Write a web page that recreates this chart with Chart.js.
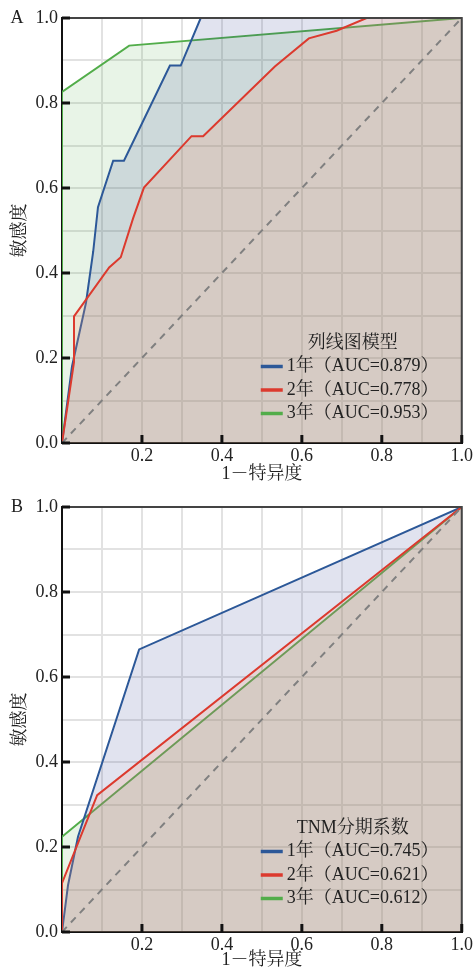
<!DOCTYPE html>
<html>
<head>
<meta charset="utf-8">
<script src="https://cdn.jsdelivr.net/npm/chart.js@4.4.1/dist/chart.umd.min.js"></script>
<style>
  body { margin: 0; background: #fff; }
  canvas { display: block; }
</style>
</head>
<body>
<canvas id="chartA" width="475" height="489"></canvas>
<canvas id="chartB" width="475" height="486"></canvas>
<script>
// A: 列线图模型
const a1x = [0, 0.025, 0.06, 0.078, 0.09, 0.128, 0.155, 0.27, 0.297, 0.347, 1];
const a1y = [0, 0.18, 0.33, 0.45, 0.555, 0.664, 0.664, 0.888, 0.888, 1, 1];
const a2x = [0, 0.03, 0.03, 0.118, 0.147, 0.178, 0.205, 0.324, 0.353, 0.5325, 0.6175, 0.687, 0.762, 1];
const a2y = [0, 0.19, 0.298, 0.413, 0.437, 0.529, 0.601, 0.722, 0.722, 0.886, 0.952, 0.97, 1, 1];
const a3x = [0, 0, 0.168, 1];
const a3y = [0, 0.826, 0.935, 1];

// B: TNM分期系数
const b1x = [0, 0.015, 0.04, 0.193, 1];
const b1y = [0, 0.11, 0.224, 0.665, 1];
const b2x = [0, 0, 0.088, 1];
const b2y = [0, 0.115, 0.322, 1];
const b3x = [0, 0, 1];
const b3y = [0, 0.224, 1];

const years = ['1年', '2年', '3年'];
const aucA = ['0.879', '0.778', '0.953'];
const aucB = ['0.745', '0.621', '0.612'];
const refLine = [0, 1];
const majorTicks = [0, 0.2, 0.4, 0.6, 0.8, 1.0];

const serif = "'Liberation Serif', 'Times New Roman', 'Noto Serif CJK SC', 'Noto Sans CJK SC', serif";
const lineCols = ['#2c5898', '#dc3a2e', '#52ad4a'];
const fillCols = ['rgba(45,55,140,0.14)', 'rgba(250,150,110,0.2)', 'rgba(80,170,70,0.13)'];
const drawOrder = [2, 1, 3];

function pts(xs, ys) {
  return xs.map((x, i) => ({ x: x, y: ys[i] }));
}

const frame = {
  id: 'frame',
  afterDatasetsDraw(chart, args, opts) {
    const { ctx, chartArea: ca, scales: { x, y } } = chart;
    ctx.save();
    ctx.strokeStyle = '#444';
    ctx.lineWidth = 2;
    ctx.beginPath();
    ctx.moveTo(ca.left, ca.top);
    ctx.lineTo(ca.right, ca.top);
    ctx.lineTo(ca.right, ca.bottom);
    ctx.stroke();
    ctx.strokeStyle = '#111';
    ctx.lineWidth = 3;
    majorTicks.forEach(v => {
      if (v > 0) {
        const px = x.getPixelForValue(v);
        ctx.beginPath(); ctx.moveTo(px, ca.bottom); ctx.lineTo(px, ca.bottom - 8); ctx.stroke();
      }
      const py = y.getPixelForValue(v);
      ctx.beginPath(); ctx.moveTo(ca.left, py); ctx.lineTo(ca.left + 8, py); ctx.stroke();
    });
    ctx.fillStyle = '#222';
    ctx.font = '18px ' + serif;
    ctx.textAlign = 'center';
    ctx.textBaseline = 'middle';
    ctx.fillText(opts.letter, 17, ca.top);
    ctx.restore();
  }
};

const innerLegend = {
  id: 'innerLegend',
  afterDraw(chart, args, opts) {
    const { ctx, chartArea: ca } = chart;
    ctx.save();
    ctx.font = '18px ' + serif;
    ctx.fillStyle = '#222';
    ctx.textBaseline = 'middle';
    ctx.textAlign = 'center';
    const top = ca.bottom - opts.top;
    ctx.fillText(opts.title, ca.right - 109, top);
    ctx.textAlign = 'left';
    chart.data.datasets.filter(d => d.label).forEach((d, i) => {
      const yy = top + 23.5 * (i + 1);
      ctx.strokeStyle = d.borderColor;
      ctx.lineWidth = 3.5;
      ctx.beginPath(); ctx.moveTo(ca.right - 201, yy); ctx.lineTo(ca.right - 179, yy); ctx.stroke();
      ctx.fillText(d.label, ca.right - 175, yy);
    });
    ctx.restore();
  }
};

function makeChart(id, series, auc, letter, title, legendTop) {
  const datasets = series.map((s, i) => ({
    label: years[i] + '（AUC=' + auc[i] + '）',
    data: pts(s[0], s[1]),
    borderColor: lineCols[i],
    backgroundColor: fillCols[i],
    borderWidth: 2,
    fill: 'origin',
    pointRadius: 0,
    tension: 0,
    order: drawOrder[i]
  }));
  datasets.push({
    label: '',
    data: pts(refLine, refLine),
    borderColor: '#808080',
    borderWidth: 2,
    borderDash: [7, 6],
    fill: false,
    pointRadius: 0,
    order: 0
  });
  return new Chart(document.getElementById(id), {
    type: 'line',
    data: { datasets: datasets },
    options: {
      responsive: false,
      animation: false,
      layout: { padding: { left: 0, top: 18, right: 13, bottom: 0 } },
      plugins: {
        legend: { display: false },
        tooltip: { enabled: false },
        frame: { letter: letter },
        innerLegend: { title: title, top: legendTop }
      },
      scales: {
        x: {
          type: 'linear', min: 0, max: 1,
          afterFit: s => { s.height = s.chart.height - 443; },
          grid: { color: '#e2e2e2', lineWidth: 2, drawTicks: false },
          border: { color: '#111', width: 2 },
          ticks: {
            stepSize: 0.1, padding: 2, color: '#222', maxRotation: 0,
            font: { family: serif, size: 18 },
            callback: v => (Math.round(v * 10) % 2 === 0 && v > 0) ? v.toFixed(1) : ''
          },
          title: {
            display: true, text: '1－特异度', color: '#222',
            font: { family: serif, size: 18 }, padding: { top: 0, bottom: 4 }
          }
        },
        y: {
          type: 'linear', min: 0, max: 1,
          afterFit: s => { s.width = 62; },
          grid: { color: '#e2e2e2', lineWidth: 2, drawTicks: false },
          border: { color: '#111', width: 2 },
          ticks: {
            stepSize: 0.1, padding: 4, color: '#222',
            font: { family: serif, size: 18 },
            callback: v => (Math.round(v * 10) % 2 === 0) ? v.toFixed(1) : ''
          },
          title: {
            display: true, text: '敏感度', color: '#222',
            font: { family: serif, size: 18 }, padding: { top: 9, bottom: 0 }
          }
        }
      }
    },
    plugins: [frame, innerLegend]
  });
}

makeChart('chartA', [[a1x, a1y], [a2x, a2y], [a3x, a3y]], aucA, 'A', '列线图模型', 100);
makeChart('chartB', [[b1x, b1y], [b2x, b2y], [b3x, b3y]], aucB, 'B', 'TNM分期系数', 104);
</script>
</body>
</html>
